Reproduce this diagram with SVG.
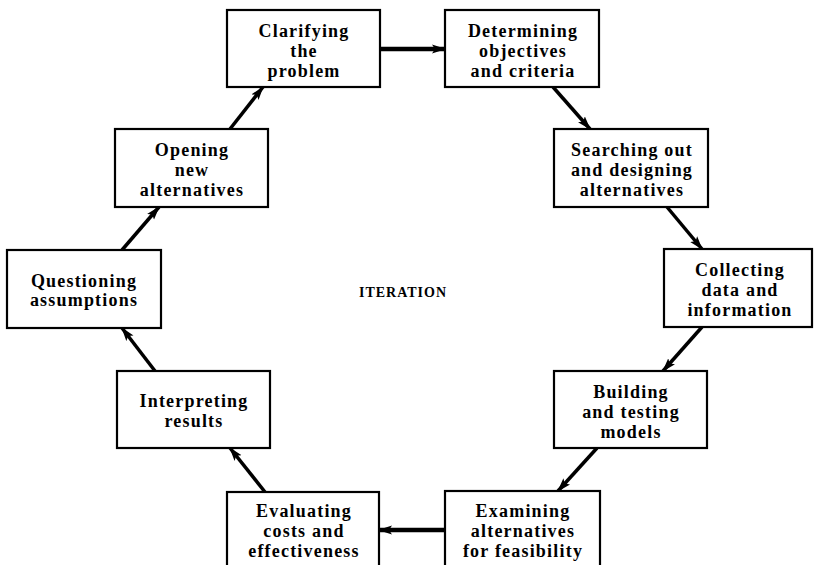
<svg xmlns="http://www.w3.org/2000/svg" width="814" height="565" viewBox="0 0 814 565">
<style>
.box{fill:#fff;stroke:#000;stroke-width:2.2}
.t{font-family:"Liberation Serif","Times New Roman",serif;font-weight:bold;font-size:18px;letter-spacing:1.2px;text-anchor:middle;fill:#000}
.c{fill:none;stroke:#000;stroke-width:3.5}
.h{stroke-width:4.5}
</style>
<defs>
<marker id="ah" viewBox="0 0 14 10" refX="13" refY="5" markerWidth="14" markerHeight="10" markerUnits="userSpaceOnUse" orient="auto">
<path d="M0,0.5 L14,5 L0,9.5 L3,5 Z" fill="#000"/>
</marker>
</defs>
<rect width="814" height="565" fill="#fff"/>
<g id="connectors">
<line class="c h" x1="380" y1="49" x2="445" y2="49" marker-end="url(#ah)"/>
<line class="c" x1="553" y1="87" x2="590" y2="129" marker-end="url(#ah)"/>
<line class="c" x1="667" y1="207" x2="702" y2="249" marker-end="url(#ah)"/>
<line class="c" x1="702" y1="327" x2="663" y2="371" marker-end="url(#ah)"/>
<line class="c" x1="597" y1="448" x2="558" y2="491" marker-end="url(#ah)"/>
<line class="c h" x1="445" y1="530" x2="379" y2="530" marker-end="url(#ah)"/>
<line class="c" x1="265" y1="492" x2="230" y2="448" marker-end="url(#ah)"/>
<line class="c" x1="155" y1="371" x2="122" y2="328" marker-end="url(#ah)"/>
<line class="c" x1="122" y1="250" x2="159" y2="207" marker-end="url(#ah)"/>
<line class="c" x1="230" y1="129" x2="263" y2="87" marker-end="url(#ah)"/>
</g>
<g id="clarifying">
<rect class="box" x="227" y="10" width="153" height="77"/>
<text class="t" x="304" y="37">Clarifying</text>
<text class="t" x="304" y="57">the</text>
<text class="t" x="304" y="77">problem</text>
</g>
<g id="determining">
<rect class="box" x="445" y="10" width="154" height="77"/>
<text class="t" x="523" y="37">Determining</text>
<text class="t" x="523" y="57">objectives</text>
<text class="t" x="523" y="77">and criteria</text>
</g>
<g id="searching">
<rect class="box" x="554" y="129" width="154" height="78"/>
<text class="t" x="632" y="156">Searching out</text>
<text class="t" x="632" y="176">and designing</text>
<text class="t" x="632" y="196">alternatives</text>
</g>
<g id="collecting">
<rect class="box" x="664" y="249" width="148" height="78"/>
<text class="t" x="740" y="276">Collecting</text>
<text class="t" x="740" y="296">data and</text>
<text class="t" x="740" y="316">information</text>
</g>
<g id="building">
<rect class="box" x="554" y="371" width="153" height="77"/>
<text class="t" x="631" y="398">Building</text>
<text class="t" x="631" y="418">and testing</text>
<text class="t" x="631" y="438">models</text>
</g>
<g id="examining">
<rect class="box" x="445" y="491" width="155" height="80"/>
<text class="t" x="523" y="517">Examining</text>
<text class="t" x="523" y="537">alternatives</text>
<text class="t" x="523" y="557">for feasibility</text>
</g>
<g id="evaluating">
<rect class="box" x="227" y="492" width="152" height="80"/>
<text class="t" x="304" y="517">Evaluating</text>
<text class="t" x="304" y="537">costs and</text>
<text class="t" x="304" y="557">effectiveness</text>
</g>
<g id="interpreting">
<rect class="box" x="117" y="371" width="153" height="77"/>
<text class="t" x="194" y="407">Interpreting</text>
<text class="t" x="194" y="427">results</text>
</g>
<g id="questioning">
<rect class="box" x="7" y="250" width="154" height="78"/>
<text class="t" x="84" y="287">Questioning</text>
<text class="t" x="84" y="306">assumptions</text>
</g>
<g id="opening">
<rect class="box" x="115" y="129" width="153" height="78"/>
<text class="t" x="192" y="156">Opening</text>
<text class="t" x="192" y="176">new</text>
<text class="t" x="192" y="196">alternatives</text>
</g>
<text class="t" x="403" y="297" style="font-size:14px;letter-spacing:1px">ITERATION</text>
</svg>
